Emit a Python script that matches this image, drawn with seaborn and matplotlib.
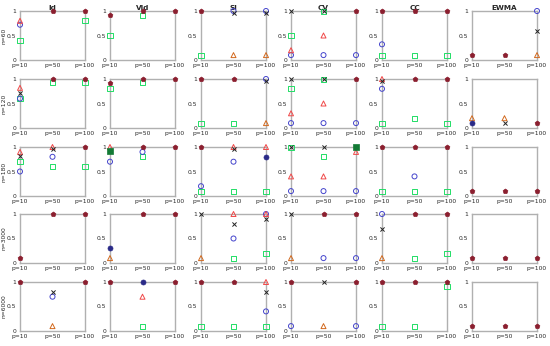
import numpy as np
import pandas as pd
import matplotlib
matplotlib.use("Agg")
import matplotlib.pyplot as plt
import seaborn as sns

N = np.nan
rows = ["n=60", "n=120", "n=180", "n=3000", "n=6000"]
cols = ["Id", "Vld", "SI", "CV", "CC", "EWMA"]
xlabels = ["p=10", "p=50", "p=100"]

E = [N, N, N]
# each: [row][col] -> values at p=10, p=50, p=100
tri_red = [
    [[.8, N, N], E, E, [.2, .5, N], E, E],
    [[.82, N, N], E, E, [.3, .5, N], [1, N, N], E],
    [[.9, 1, N], [1, N, N], [N, 1, 1], [.4, .4, .9], E, E],
    [E, E, [N, 1, 1], E, E, E],
    [E, [N, .7, N], [N, N, 1], E, E, E],
]
circ_blue = [
    [[.72, N, N], E, [N, 1, 1], [.1, .1, .1], [.32, N, N], [N, N, 1]],
    [[.6, N, N], E, [N, N, 1], [.1, .1, .1], [.8, N, N], E],
    [[.5, .8, N], [.7, .9, N], [.2, .7, N], [.1, .1, .1], [N, .4, N], E],
    [E, E, [N, .5, 1], [N, .1, .1], [1, N, N], E],
    [[N, .7, N], E, [N, N, .4], [.1, N, .1], E, E],
]
sq_green = [
    [[.4, N, .8], [.5, .9, N], [.1, N, N], [.5, .98, N], [.1, .1, .1], E],
    [[.6, .92, .92], [.8, .92, N], [.1, .1, N], [.8, .98, N], [.1, .2, .1], E],
    [[.7, .6, .6], [N, .8, N], [.1, .1, .1], [.98, .8, N], [.1, .1, .1], E],
    [E, E, [N, .1, .2], E, [N, .1, .2], E],
    [E, [N, .1, N], [.1, .1, .1], E, [.1, .1, .9], E],
]
x_black = [
    [E, E, [N, .95, .95], [1, 1, N], E, [N, N, .6]],
    [[.72, N, N], E, [N, N, .95], [1, 1, N], [.95, N, N], [N, .1, N]],
    [[.82, .95, N], E, [N, .95, N], [1, 1, N], E, E],
    [E, E, [1, .8, .9], [1, N, N], [.7, N, N], E],
    [[N, .8, N], E, [N, N, .8], [N, 1, N], E, E],
]
tri_orange = [
    [E, E, [N, .1, .1], E, E, [N, N, .1]],
    [E, E, [N, N, .1], E, E, [.2, .2, N]],
    [E, E, E, E, E, E],
    [E, [.1, N, N], [.1, N, N], [.1, N, N], [.1, N, N], E],
    [[N, .1, N], E, E, [N, .1, N], E, E],
]
fill_maroon = [
    [[N, 1, 1], [.92, 1, 1], [1, N, N], [N, N, 1], [1, 1, 1], [.1, .1, N]],
    [[N, 1, 1], [.92, 1, 1], [1, 1, N], [N, N, 1], [N, 1, 1], [N, N, .1]],
    [[N, N, 1], [N, 1, 1], [1, N, N], E, [1, 1, 1], [.1, .1, .1]],
    [[.1, 1, 1], [N, 1, 1], E, [N, 1, 1], [N, 1, 1], [.1, .1, .1]],
    [[1, N, 1], [1, N, 1], [1, 1, N], [1, N, 1], [1, 1, 1], [.1, .1, .1]],
]
fill_navy = [
    [E, E, E, E, E, E],
    [E, E, E, E, E, [.1, N, N]],
    [E, E, [N, N, .8], E, E, E],
    [E, [.3, N, N], E, E, E, E],
    [E, [N, 1, N], E, E, E, E],
]
fill_green = [
    [E, E, E, E, E, E],
    [E, E, E, E, E, E],
    [E, [.92, N, N], E, [N, N, 1], E, E],
    [E, E, E, E, E, E],
    [E, E, E, E, E, E],
]

series = [
    (sq_green, "s", "#22dd66", False),
    (circ_blue, "o", "#4444cc", False),
    (tri_orange, "^", "#d2691e", False),
    (tri_red, "^", "#f04848", False),
    (x_black, "x", "#222222", None),
    (fill_green, "s", "#137a35", True),
    (fill_navy, "o", "#2a2a88", True),
    (fill_maroon, "p", "#8b1f2f", True),
]

sns.set_style("white")
plt.rcParams["font.family"] = ["DejaVu Sans"]

W, H = 550, 346
fig = plt.figure(figsize=(W / 100, H / 100), dpi=100)
lefts = [20, 110, 201, 291, 382, 472]
tops = [11, 79, 147, 214, 282]
aw, ah = 65, 49
gray = "#b0b0b0"
fs = 4.3

for r in range(5):
    for c in range(6):
        ax = fig.add_axes([lefts[c] / W, 1 - (tops[r] + ah) / H, aw / W, ah / H])
        for data, mk, col, filled in series:
            vals = data[r][c]
            df = pd.DataFrame({"x": [0, 1, 2], "y": vals}).dropna()
            if df.empty:
                continue
            if filled is None:
                sns.scatterplot(data=df, x="x", y="y", marker=mk, color=col,
                                s=9, linewidth=0.7, ax=ax, clip_on=False, zorder=5)
            elif filled:
                sns.scatterplot(data=df, x="x", y="y", marker=mk, color=col,
                                edgecolor=col, s=13, linewidth=0.5, ax=ax,
                                clip_on=False, zorder=6)
            else:
                sns.scatterplot(data=df, x="x", y="y", marker=mk, facecolor="none",
                                edgecolor=col, s=13, linewidth=0.7, ax=ax,
                                clip_on=False, zorder=4)
        ax.set_xlim(0, 2)
        ax.set_ylim(0, 1)
        ax.set_xticks([0, 1, 2])
        ax.set_xticklabels(xlabels, fontsize=fs)
        ax.set_yticks([0, 0.5, 1])
        ax.set_yticklabels(["0", "0.5", "1"], fontsize=fs)
        ax.tick_params(length=1.5, width=0.5, pad=1, color=gray)
        ax.set_xlabel("")
        if c == 0:
            ax.set_ylabel(rows[r], fontsize=fs)
            ax.yaxis.set_label_coords(-0.2, 0.5)
        else:
            ax.set_ylabel("")
        for sp in ax.spines.values():
            sp.set_color(gray)
            sp.set_linewidth(1.0)
        if r == 0:
            ax.set_title(cols[c], fontsize=5.2, fontweight="bold", pad=1)

fig.savefig("out.png", dpi=100)
